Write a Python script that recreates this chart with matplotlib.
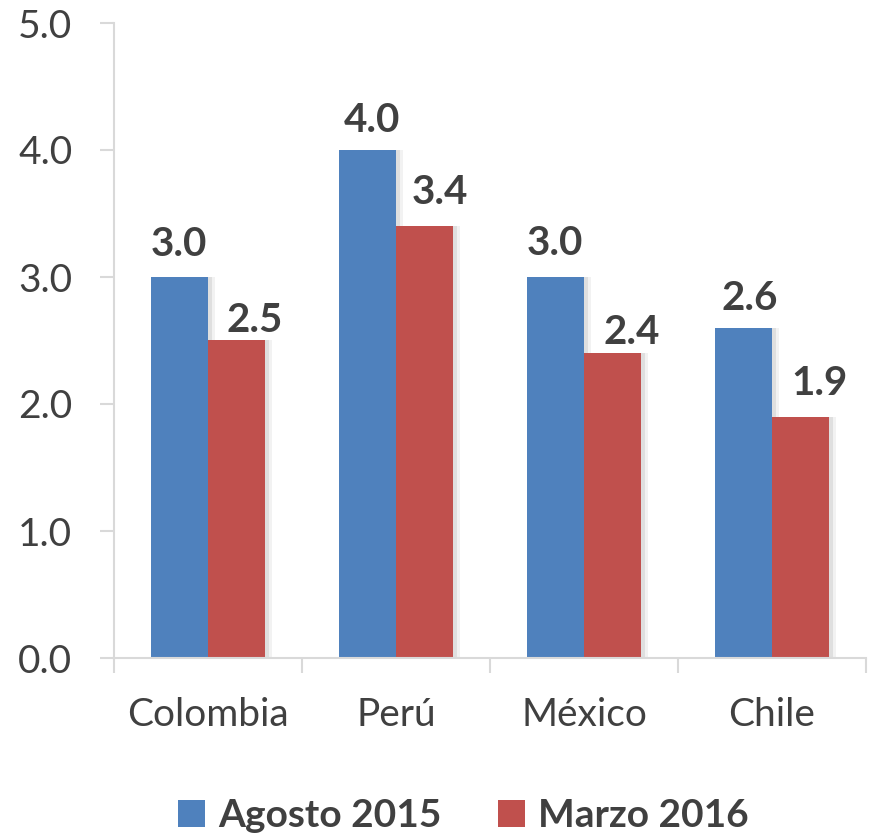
import matplotlib
matplotlib.use("Agg")
import matplotlib.pyplot as plt
import numpy as np

categories = ["Colombia", "Perú", "México", "Chile"]
series_names = ["Agosto 2015", "Marzo 2016"]
agosto_2015 = [3.0, 4.0, 3.0, 2.6]
marzo_2016 = [2.5, 3.4, 2.4, 1.9]
yticks = [0.0, 1.0, 2.0, 3.0, 4.0, 5.0]

# label placement tweaks (pixels), as in the original layout
label_dx = [[0, 5, 0, 6], [18, 15, 19, 19]]
label_dy = [[21, 18, 22, 18], [8, 22, 9, 22]]

colors = ["#4F81BD", "#C0504D"]
txt = "#404040"
axc = "#D9D9D9"
plt.rcParams['font.family'] = ['Lato', 'DejaVu Sans']

fig = plt.figure(figsize=(8.73, 8.38), dpi=100)
ax = fig.add_axes([114/873, (838-658)/838, (866-114)/873, (658-23)/838])

x = np.arange(len(categories))
w = 0.305
for i, (vals, c) in enumerate(zip([agosto_2015, marzo_2016], colors)):
    pos = x + (i - 0.5) * w
    ax.bar(pos + 0.02, vals, w, color="#000000", alpha=0.08, zorder=1, linewidth=0)
    ax.bar(pos + 0.035, vals, w, color="#000000", alpha=0.05, zorder=1, linewidth=0)
    bars = ax.bar(pos, vals, w, color=c, label=series_names[i], zorder=2, linewidth=0)
    for j, (b, v) in enumerate(zip(bars, vals)):
        ax.annotate(f"{v:.1f}", (b.get_x() + b.get_width()/2, v),
                    xytext=(label_dx[i][j], label_dy[i][j]),
                    textcoords="offset pixels", ha="center", va="baseline",
                    fontsize=29, fontweight="bold", color=txt, zorder=3)

ax.set_xlim(-0.5, len(categories) - 0.5)
ax.set_ylim(0, 5)
ax.set_yticks(yticks)
ax.set_yticklabels([f"{t:.1f}" for t in yticks])
ax.set_xticks(x)
ax.set_xticklabels(categories)
ax.set_xticks(np.arange(-0.5, len(categories)), minor=True)

ax.spines["top"].set_visible(False)
ax.spines["right"].set_visible(False)
for s in ["left", "bottom"]:
    ax.spines[s].set_color(axc)
    ax.spines[s].set_linewidth(1.5)
ax.tick_params(axis="x", which="major", length=0, pad=28, labelsize=28, labelcolor=txt)
ax.tick_params(axis="x", which="minor", length=11, width=1.5, color=axc)
ax.tick_params(axis="y", length=10, width=1.5, color=axc, labelsize=28, labelcolor=txt, pad=20)

leg = fig.legend(loc="lower center", bbox_to_anchor=(0.531, -0.036), ncol=2, frameon=False,
                 prop={"size": 28, "weight": "bold"}, handlelength=0.68, handleheight=0.68,
                 handletextpad=0.35, columnspacing=1.45)
for t in leg.get_texts():
    t.set_color(txt)

fig.savefig("out.png", dpi=100)
